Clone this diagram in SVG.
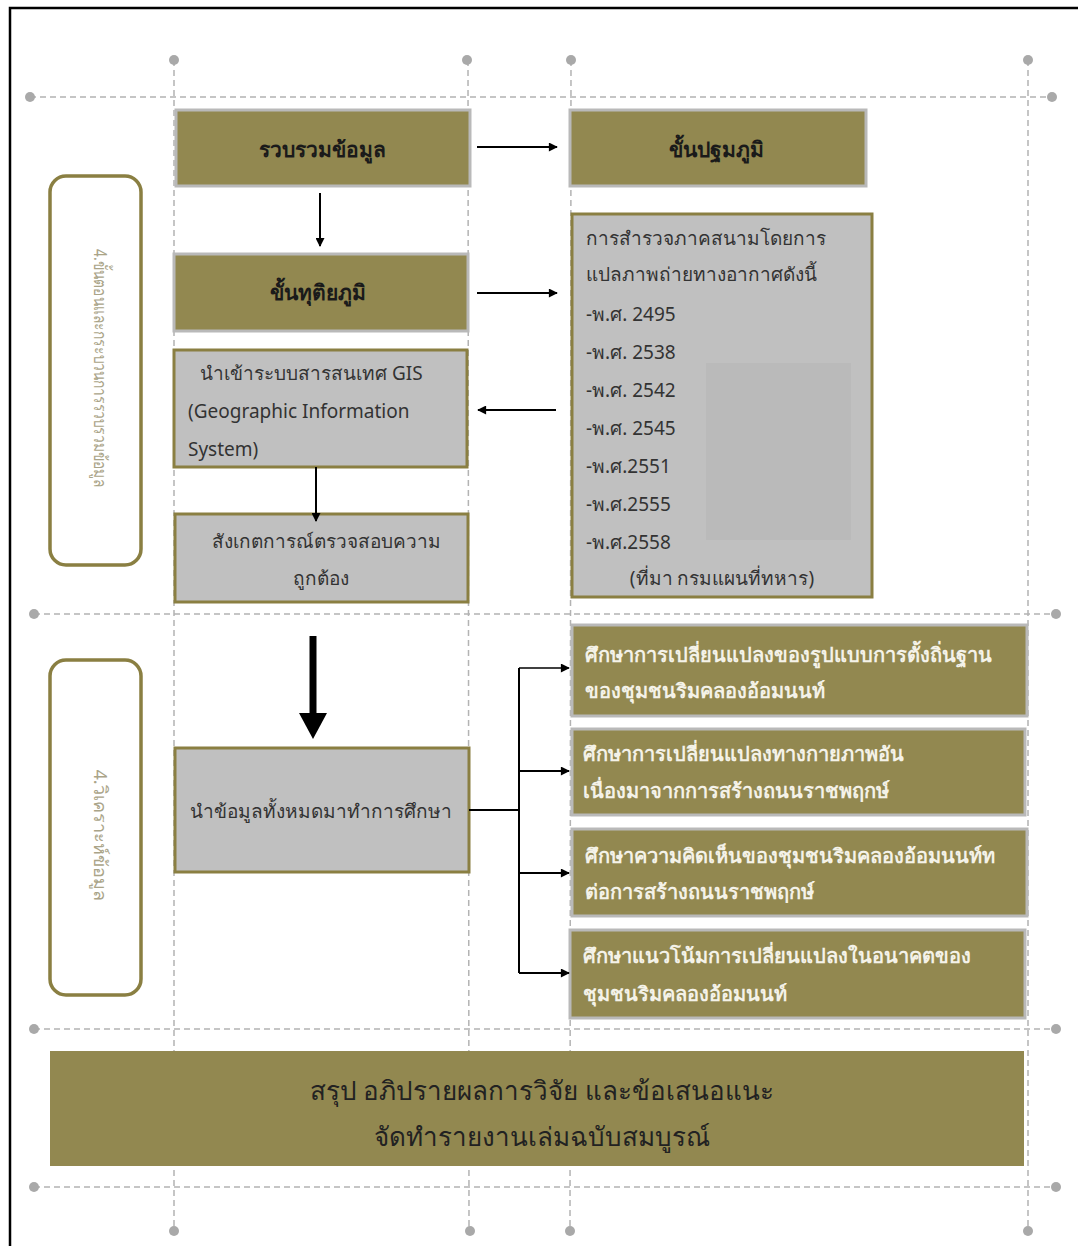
<svg xmlns="http://www.w3.org/2000/svg" width="1078" height="1246" viewBox="0 0 1078 1246">
<defs>
<style>
.t{font-family:"Noto Sans","DejaVu Sans",sans-serif}
.olive{fill:#928850;stroke:#b9b9b9;stroke-width:3}
.gbox{fill:#c0c0c0;stroke:#8a7f42;stroke-width:3}
.guide{stroke:#b3b3b3;stroke-width:1.5;stroke-dasharray:6 4;fill:none}
.dot{fill:#a9a9a9}
.lab{fill:#fff;stroke:#8a7f42;stroke-width:3.5}
.hd{font-size:21px;font-weight:bold;fill:#1a1a1a;text-anchor:middle}
.gt{font-size:19px;fill:#333}
.wt{font-size:20px;font-weight:bold;fill:#f4f2e8}
.vt{font-size:18px;fill:#aaa488;text-anchor:middle}
.con{stroke:#000;stroke-width:2;fill:none}
</style>
<marker id="ah" viewBox="0 0 10 10" refX="9" refY="5" markerWidth="10" markerHeight="9" orient="auto" markerUnits="userSpaceOnUse">
<path d="M0,0 L10,5 L0,10 z" fill="#000"/>
</marker>
</defs>
<rect width="1078" height="1246" fill="#fff"/>
<path d="M10,1246 V8 H1078" fill="none" stroke="#000" stroke-width="2.5"/>

<g id="guides">
<line class="guide" x1="30" y1="97" x2="1052" y2="97"/>
<line class="guide" x1="34" y1="614" x2="1056" y2="614"/>
<line class="guide" x1="34" y1="1029" x2="1056" y2="1029"/>
<line class="guide" x1="34" y1="1187" x2="1056" y2="1187"/>
<line class="guide" x1="174" y1="60" x2="174" y2="1231"/>
<line class="guide" x1="468" y1="60" x2="469" y2="1231"/>
<line class="guide" x1="571" y1="60" x2="570" y2="1231"/>
<line class="guide" x1="1028" y1="60" x2="1028" y2="1231"/>
<circle class="dot" cx="30" cy="97" r="5"/><circle class="dot" cx="1052" cy="97" r="5"/>
<circle class="dot" cx="34" cy="614" r="5"/><circle class="dot" cx="1056" cy="614" r="5"/>
<circle class="dot" cx="34" cy="1029" r="5"/><circle class="dot" cx="1056" cy="1029" r="5"/>
<circle class="dot" cx="34" cy="1187" r="5"/><circle class="dot" cx="1056" cy="1187" r="5"/>
<circle class="dot" cx="174" cy="60" r="5"/><circle class="dot" cx="467" cy="60" r="5"/>
<circle class="dot" cx="571" cy="60" r="5"/><circle class="dot" cx="1028" cy="60" r="5"/>
<circle class="dot" cx="174" cy="1231" r="5"/><circle class="dot" cx="470" cy="1231" r="5"/>
<circle class="dot" cx="570" cy="1231" r="5"/><circle class="dot" cx="1028" cy="1231" r="5"/>
</g>

<g id="label1">
<rect class="lab" x="50" y="176" width="91" height="389" rx="16"/>
<text class="t vt" transform="translate(94,368) rotate(90)" textLength="238" lengthAdjust="spacingAndGlyphs">4.ขั้นตอนและกระบวนการรวบรวมข้อมูล</text>
</g>
<g id="label2">
<rect class="lab" x="50" y="660" width="91" height="335" rx="16"/>
<text class="t vt" transform="translate(94,835) rotate(90)">4.วิเคราะห์ข้อมูล</text>
</g>

<g id="n-collect">
<rect class="olive" x="176" y="110" width="294" height="76"/>
<text class="t hd" x="322" y="157">รวบรวมข้อมูล</text>
</g>
<g id="n-primary">
<rect class="olive" x="570" y="110" width="296" height="76"/>
<text class="t hd" x="716" y="157">ขั้นปฐมภูมิ</text>
</g>
<g id="n-secondary">
<rect class="olive" x="174" y="254" width="294" height="77"/>
<text class="t hd" x="318" y="300">ขั้นทุติยภูมิ</text>
</g>
<g id="n-gis">
<rect class="gbox" x="174" y="350" width="293" height="117"/>
<text class="t gt" x="200" y="380">นำเข้าระบบสารสนเทศ GIS</text>
<text class="t gt" x="188" y="418">(Geographic Information</text>
<text class="t gt" x="188" y="456">System)</text>
</g>
<g id="n-check">
<rect class="gbox" x="175" y="514" width="293" height="88"/>
<text class="t gt" x="212" y="548">สังเกตการณ์ตรวจสอบความ</text>
<text class="t gt" x="321" y="585" text-anchor="middle">ถูกต้อง</text>
</g>
<g id="n-survey">
<rect class="gbox" x="572" y="214" width="300" height="383"/>
<rect x="706" y="363" width="145" height="177" fill="#bababa"/>
<text class="t gt" x="586" y="245">การสำรวจภาคสนามโดยการ</text>
<text class="t gt" x="586" y="281">แปลภาพถ่ายทางอากาศดังนี้</text>
<text class="t gt" x="586" y="321">-พ.ศ. 2495</text>
<text class="t gt" x="586" y="359">-พ.ศ. 2538</text>
<text class="t gt" x="586" y="397">-พ.ศ. 2542</text>
<text class="t gt" x="586" y="435">-พ.ศ. 2545</text>
<text class="t gt" x="586" y="473">-พ.ศ.2551</text>
<text class="t gt" x="586" y="511">-พ.ศ.2555</text>
<text class="t gt" x="586" y="549">-พ.ศ.2558</text>
<text class="t gt" x="722" y="585" text-anchor="middle">(ที่มา กรมแผนที่ทหาร)</text>
</g>
<g id="n-study">
<rect class="gbox" x="175" y="748" width="294" height="124"/>
<text class="t gt" x="321" y="818" text-anchor="middle">นำข้อมูลทั้งหมดมาทำการศึกษา</text>
</g>
<g id="n-r1">
<rect class="olive" x="572" y="625" width="455" height="91"/>
<text class="t wt" x="585" y="662">ศึกษาการเปลี่ยนแปลงของรูปแบบการตั้งถิ่นฐาน</text>
<text class="t wt" x="585" y="698">ของชุมชนริมคลองอ้อมนนท์</text>
</g>
<g id="n-r2">
<rect class="olive" x="572" y="729" width="453" height="86"/>
<text class="t wt" x="583" y="761">ศึกษาการเปลี่ยนแปลงทางกายภาพอัน</text>
<text class="t wt" x="583" y="798">เนื่องมาจากการสร้างถนนราชพฤกษ์</text>
</g>
<g id="n-r3">
<rect class="olive" x="572" y="829" width="455" height="87"/>
<text class="t wt" x="585" y="863">ศึกษาความคิดเห็นของชุมชนริมคลองอ้อมนนท์ท</text>
<text class="t wt" x="585" y="899">ต่อการสร้างถนนราชพฤกษ์</text>
</g>
<g id="n-r4">
<rect class="olive" x="570" y="930" width="455" height="88"/>
<text class="t wt" x="583" y="963">ศึกษาแนวโน้มการเปลี่ยนแปลงในอนาคตของ</text>
<text class="t wt" x="583" y="1001">ชุมชนริมคลองอ้อมนนท์</text>
</g>
<g id="n-summary">
<rect x="50" y="1051" width="974" height="115" fill="#928850"/>
<text class="t" x="542" y="1100" font-size="26" fill="#222" text-anchor="middle">สรุป อภิปรายผลการวิจัย และข้อเสนอแนะ</text>
<text class="t" x="542" y="1146" font-size="26" fill="#222" text-anchor="middle">จัดทำรายงานเล่มฉบับสมบูรณ์</text>
</g>

<g id="connectors">
<line class="con" x1="477" y1="147" x2="557" y2="147" marker-end="url(#ah)"/>
<line class="con" x1="320" y1="193" x2="320" y2="246" marker-end="url(#ah)"/>
<line class="con" x1="477" y1="293" x2="557" y2="293" marker-end="url(#ah)"/>
<line class="con" x1="556" y1="410" x2="478" y2="410" marker-end="url(#ah)"/>
<line class="con" x1="316" y1="467" x2="316" y2="521" marker-end="url(#ah)"/>
<line x1="313" y1="636" x2="313" y2="714" stroke="#000" stroke-width="7"/>
<polygon points="299,713 327,713 313,739" fill="#000"/>
<path class="con" d="M469,810 H519" stroke-width="3"/>
<path class="con" d="M519,668 V973" stroke-width="2.5"/>
<line x1="519" y1="668" x2="569" y2="668" stroke="#000" stroke-width="1.5" marker-end="url(#ah)"/>
<line class="con" x1="519" y1="771" x2="569" y2="771" marker-end="url(#ah)"/>
<line class="con" x1="519" y1="873" x2="569" y2="873" marker-end="url(#ah)"/>
<line class="con" x1="519" y1="973" x2="569" y2="973" marker-end="url(#ah)"/>
</g>
</svg>
